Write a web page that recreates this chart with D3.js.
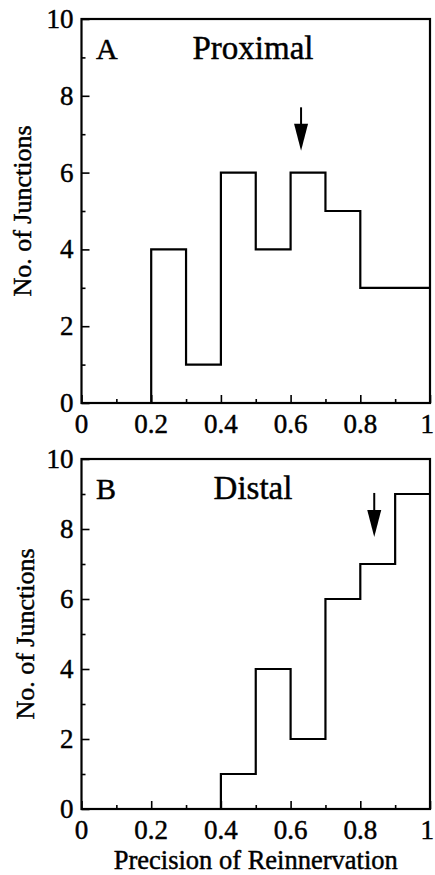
<!DOCTYPE html>
<html>
<head>
<meta charset="utf-8">
<script src="https://cdn.jsdelivr.net/npm/d3@7"></script>
<style>
  body { margin: 0; background: #fff; }
  svg { display: block; }
  text { font-family: "Liberation Serif", "DejaVu Serif", serif; fill: #000; stroke: #000; stroke-width: 0.45px; }
  .axis path { display: none; }
  .axis line { stroke: #000; stroke-width: 1.6px; }
</style>
</head>
<body>
<svg id="chart" width="435" height="875"></svg>
<script>
// bins of precision (left edges, width 0.1)
var binStarts = [0, 0.1, 0.2, 0.3, 0.4, 0.5, 0.6, 0.7, 0.8, 0.9];
var proximalCounts = [0, 0, 4, 1, 6, 4, 6, 5, 3, 3];
var distalCounts = [0, 0, 0, 0, 1, 4, 2, 6, 7, 9];
var panelLetters = ["A", "B"];
var panelNames = ["Proximal", "Distal"];
// arrows: x position, top of shaft, tip (in data units)
var arrowX = [0.63, 0.84];
var arrowTop = [7.7, 9.03];
var arrowTip = [6.57, 7.77];
var xMajorTicks = [0, 0.2, 0.4, 0.6, 0.8, 1];
var xMinorTicks = [0.1, 0.3, 0.5, 0.7, 0.9];
var yMajorTicks = [0, 2, 4, 6, 8, 10];
var yMinorTicks = [1, 3, 5, 7, 9];

var svg = d3.select("#chart");

//one panel per series, each with its own vertical extent
var panels = [
  {counts: proximalCounts, top: 19, bottom: 403, xTitle: false},
  {counts: distalCounts, top: 459, bottom: 809, xTitle: true}
];

var x = d3.scaleLinear().domain([0, 1]).range([81.5, 430]);

panels.forEach(function(p, k){
  var y = d3.scaleLinear().domain([0, 10]).range([p.bottom, p.top]);
  var g = svg.append("g");

  //inward ticks, major and minor
  g.append("g").attr("class", "axis")
    .attr("transform", "translate(0," + p.bottom + ")")
    .call(d3.axisBottom(x).tickValues(xMinorTicks).tickSize(-4).tickFormat(""));
  g.append("g").attr("class", "axis")
    .attr("transform", "translate(0," + p.bottom + ")")
    .call(d3.axisBottom(x).tickValues(xMajorTicks).tickSize(-8).tickFormat(""));
  g.append("g").attr("class", "axis")
    .attr("transform", "translate(" + x(0) + ",0)")
    .call(d3.axisLeft(y).tickValues(yMinorTicks).tickSize(-4).tickFormat(""));
  g.append("g").attr("class", "axis")
    .attr("transform", "translate(" + x(0) + ",0)")
    .call(d3.axisLeft(y).tickValues(yMajorTicks).tickSize(-8).tickFormat(""));

  //tick labels (the last one is pulled in so it stays on the page)
  g.selectAll(".xlab").data(xMajorTicks).enter().append("text")
    .attr("x", function(d){ return d == 1 ? 434 : x(d); })
    .attr("y", p.bottom + 30)
    .attr("text-anchor", function(d){ return d == 1 ? "end" : "middle"; })
    .style("font-size", "27px")
    .text(function(d){ return d; });
  g.selectAll(".ylab").data(yMajorTicks).enter().append("text")
    .attr("x", x(0) - 8)
    .attr("y", function(d){ return y(d); })
    .attr("dy", "0.33em")
    .attr("text-anchor", "end")
    .style("font-size", "27px")
    .text(function(d){ return d; });

  //frame
  g.append("rect")
    .attr("x", x(0)).attr("y", y(10))
    .attr("width", x(1) - x(0)).attr("height", y(0) - y(10))
    .attr("fill", "none").attr("stroke", "#000").attr("stroke-width", 2.2);

  //step outline of the histogram, starting at the first non-empty bin
  var first = p.counts.findIndex(function(c){ return c > 0; });
  var pts = [[binStarts[first], 0]];
  for (var i = first; i < binStarts.length; i++) pts.push([binStarts[i], p.counts[i]]);
  pts.push([1, p.counts[p.counts.length - 1]]);
  g.append("path")
    .datum(pts)
    .attr("fill", "none").attr("stroke", "#000").attr("stroke-width", 2.2)
    .attr("d", d3.line()
      .x(function(d){ return x(d[0]); })
      .y(function(d){ return y(d[1]); })
      .curve(d3.curveStepAfter));

  //arrow marking the mean
  var ax = x(arrowX[k]), tip = y(arrowTip[k]);
  g.append("line")
    .attr("x1", ax).attr("x2", ax)
    .attr("y1", y(arrowTop[k])).attr("y2", tip - 20)
    .attr("stroke", "#000").attr("stroke-width", 2);
  g.append("path")
    .attr("d", "M" + (ax - 7) + "," + (tip - 27) + "L" + (ax + 7) + "," + (tip - 27) + "L" + ax + "," + tip + "Z")
    .attr("fill", "#000");

  //panel labels
  g.append("text")
    .attr("x", 96).attr("y", p.top + 40)
    .style("font-size", "30px")
    .text(panelLetters[k]);
  g.append("text")
    .attr("x", 253).attr("y", p.top + 40)
    .attr("text-anchor", "middle")
    .style("font-size", "33px")
    .text(panelNames[k]);

  //y title
  g.append("text")
    .attr("transform", "translate(" + (k == 0 ? 31 : 34) + "," + ((p.top + p.bottom) / 2) + ") rotate(-90)")
    .attr("text-anchor", "middle")
    .style("font-size", "26px")
    .text("No. of Junctions");

  if (p.xTitle) {
    g.append("text")
      .attr("x", (x(0) + x(1)) / 2).attr("y", 869)
      .attr("text-anchor", "middle")
      .style("font-size", "26.5px")
      .text("Precision of Reinnervation");
  }
});
</script>
</body>
</html>
